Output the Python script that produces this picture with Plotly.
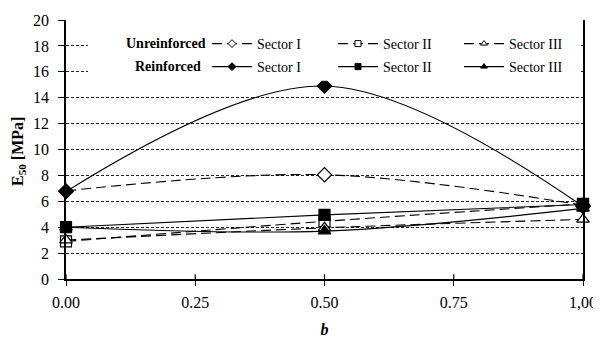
import plotly.graph_objects as go

# Data
b_values = [0.0, 0.5, 1.0]
unreinf_s1 = [6.8, 8.05, 5.7]
unreinf_s2 = [2.9, 4.45, 5.8]
unreinf_s3 = [3.0, 3.95, 4.6]
reinf_s1 = [6.75, 14.9, 5.6]
reinf_s2 = [4.0, 4.95, 5.75]
reinf_s3 = [4.0, 3.7, 5.45]

x_tickvals = [0.0, 0.25, 0.5, 0.75, 1.0]
x_ticktext = ["0.00", "0.25", "0.50", "0.75", "1,00"]
y_tickvals = list(range(0, 21, 2))

FONT = "\"Liberation Serif\", \"Times New Roman\", Times, serif"
DASH = "10px,5px"

# page body has an 8px margin; figure is sized to fit the 601x338 window
PAGE_OFF = 8
FIG_W, FIG_H = 601 - PAGE_OFF, 338 - PAGE_OFF
PLOT_L, PLOT_T, PLOT_W, PLOT_H = 66, 20, 517, 259  # window pixels


def fx(px):
    return (px - PLOT_L) / PLOT_W


def fy(py):
    return 1 - (py - PLOT_T) / PLOT_H


series = [
    ("Sector I", unreinf_s1, "diamond", True, DASH, "legend"),
    ("Sector II", unreinf_s2, "square", True, DASH, "legend"),
    ("Sector III", unreinf_s3, "triangle-up", True, DASH, "legend"),
    ("Sector I", reinf_s1, "diamond", False, "solid", "legend2"),
    ("Sector II", reinf_s2, "square", False, "solid", "legend2"),
    ("Sector III", reinf_s3, "triangle-up", False, "solid", "legend2"),
]

fig = go.Figure()

for name, vals, sym, is_open, dash, leg in series:
    fill = "white" if is_open else "black"
    fig.add_trace(go.Scatter(
        x=b_values, y=vals, mode="lines+markers", name=name,
        line=dict(color="black", width=1.1, dash=dash, shape="spline", smoothing=1.0),
        marker=dict(symbol=sym, size=11, color=fill, line=dict(color="black", width=1.2)),
        showlegend=False, cliponaxis=False,
    ))

# legend entries
for name, vals, sym, is_open, dash, leg in series:
    fill = "white" if is_open else "black"
    fig.add_trace(go.Scatter(
        x=[None], y=[None], mode="lines+markers", name=name, legend=leg,
        line=dict(color="black", width=1.1, dash=dash),
        marker=dict(symbol=sym, size=6, color=fill, line=dict(color="black", width=1)),
    ))

shapes = [
    dict(type="rect", xref="x domain", yref="y", x0=fx(88), x1=fx(580), y0=15.3, y1=19.4,
         fillcolor="white", line=dict(width=0), layer="above"),
]
for tv in x_tickvals:
    shapes.append(dict(type="line", xref="x", yref="y domain", x0=tv, x1=tv, y0=0, y1=0.018,
                       line=dict(color="black", width=1.2), layer="above"))


def make_legend(ypx):
    return dict(
        orientation="h", bgcolor="rgba(0,0,0,0)", borderwidth=0,
        font=dict(family=FONT, size=14, color="black"),
        entrywidth=71, entrywidthmode="pixels", itemwidth=40,
        xref="container", yref="paper",
        x=(205 - PAGE_OFF + 2) / FIG_W, y=fy(ypx), xanchor="left", yanchor="middle",
    )


fig.update_layout(
    width=FIG_W, height=FIG_H,
    margin=dict(l=PLOT_L - PAGE_OFF, r=FIG_W - (PLOT_L - PAGE_OFF) - PLOT_W,
                t=PLOT_T - PAGE_OFF, b=FIG_H - (PLOT_T - PAGE_OFF) - PLOT_H, autoexpand=False),
    paper_bgcolor="white", plot_bgcolor="white",
    font=dict(family=FONT, size=16, color="black"),
    xaxis=dict(range=[0, 1], tickvals=x_tickvals, ticktext=x_ticktext,
               showline=True, linecolor="black", linewidth=2,
               ticks="outside", ticklen=5, tickwidth=1.2, tickcolor="black",
               ticklabelstandoff=3,
               showgrid=False, zeroline=False, automargin=False,
               tickfont=dict(family=FONT, size=16),
               title=dict(text="<b><i>b</i></b>", font=dict(family=FONT, size=16), standoff=14)),
    yaxis=dict(range=[0, 20], tickvals=y_tickvals,
               showline=True, linecolor="black", linewidth=1.5, mirror=True,
               ticks="outside", ticklen=6, tickwidth=1, tickcolor="black",
               ticklabelstandoff=6,
               showgrid=True, gridcolor="#222", gridwidth=1, griddash="3px,2px",
               zeroline=False, automargin=False,
               tickfont=dict(family=FONT, size=16)),
    legend=make_legend(44),
    legend2=make_legend(67),
    shapes=shapes,
    annotations=[
        dict(text="<b>Unreinforced</b>", xref="paper", yref="paper", x=fx(208), y=fy(43),
             xanchor="right", yanchor="middle", showarrow=False, font=dict(family=FONT, size=14)),
        dict(text="<b>Reinforced</b>", xref="paper", yref="paper", x=fx(203), y=fy(67),
             xanchor="right", yanchor="middle", showarrow=False, font=dict(family=FONT, size=14)),
        dict(text="<b>E<sub>50</sub> [MPa]</b>", xref="paper", yref="paper", x=fx(18), y=fy(152),
             xanchor="center", yanchor="middle", textangle=-90, showarrow=False,
             font=dict(family=FONT, size=16)),
    ],
)

fig.write_html("out.html")
